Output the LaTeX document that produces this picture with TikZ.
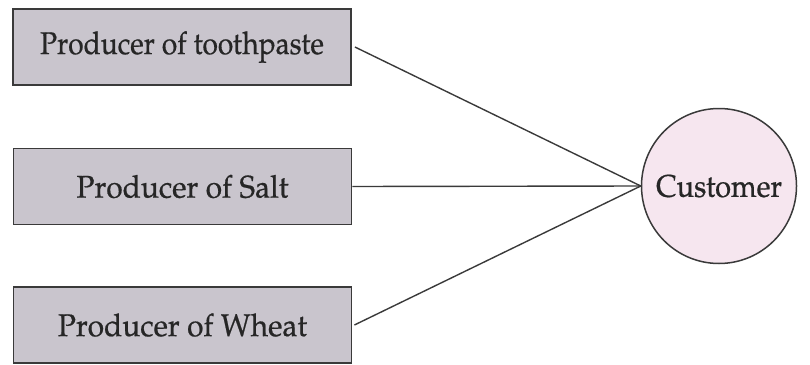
\documentclass[tikz,border=0pt]{standalone}
\usepackage{fontspec}
\setmainfont{TeX Gyre Pagella}[FakeBold=0.6]
\definecolor{boxfill}{HTML}{C9C5CD}
\definecolor{circfill}{HTML}{F6E6EF}
\definecolor{edge}{HTML}{3A3A3A}
\begin{document}
\begin{tikzpicture}[x=1pt,y=-1pt,
  prodbox/.style={draw=edge,line width=1.8pt,fill=boxfill,minimum width=338pt,minimum height=76pt,inner sep=0pt,font=\fontsize{29}{34}\selectfont,text=black!85},
  custcirc/.style={circle,draw=edge,line width=1.5pt,fill=circfill,minimum size=155pt,inner sep=0pt,font=\fontsize{29}{34}\selectfont,text=black!85},
  link/.style={draw=edge,line width=1.4pt}]
\useasboundingbox (0,0) rectangle (810,364);
\node[prodbox] (t) at (182,47) {\scalebox{0.97}[1.08]{Producer of toothpaste}};
\node[prodbox] (s) at (182.5,186.5) {\scalebox{1.03}[1.08]{Producer of Salt}};
\node[prodbox] (w) at (182.5,325) {\scalebox{1.03}[1.08]{Producer of Wheat}};
\node[custcirc] (c) at (719,186) {\scalebox{1}[1.08]{Customer}};
\draw[link] ([xshift=3pt]t.east) -- (c.west);
\draw[link] (s.east) -- (c.west);
\draw[link] ([xshift=2pt]w.east) -- (c.west);
\end{tikzpicture}
\end{document}
